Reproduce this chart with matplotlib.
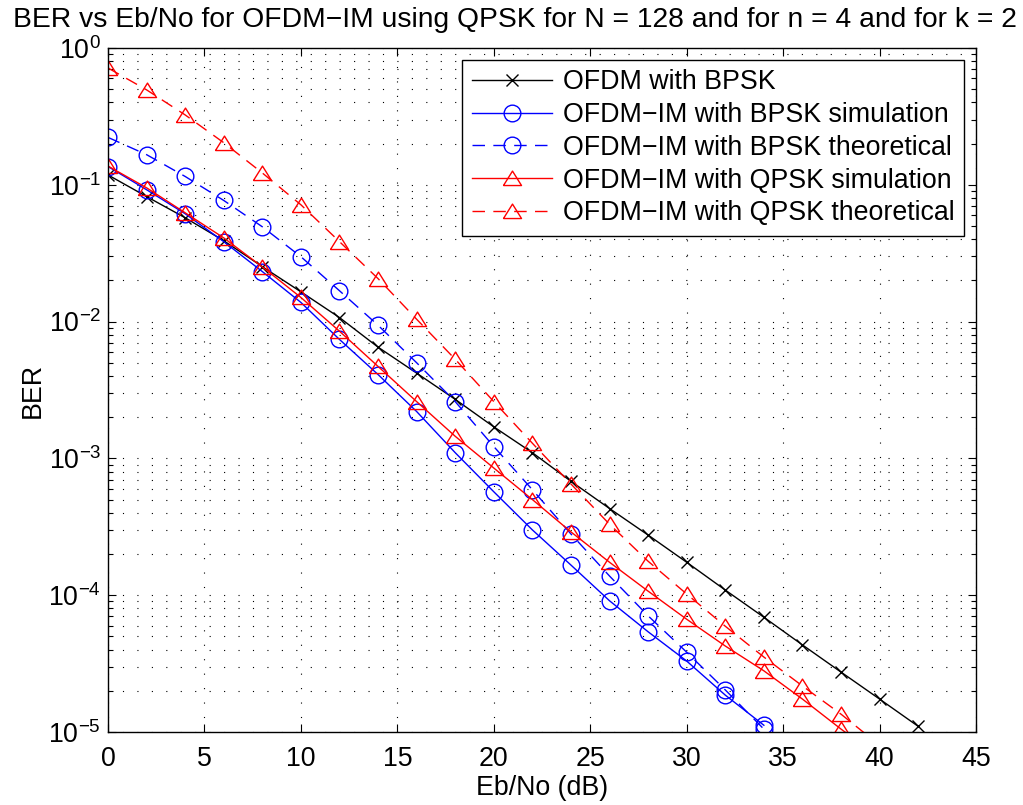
import matplotlib
matplotlib.use("Agg")
import matplotlib.pyplot as plt
from matplotlib.ticker import LogLocator, MultipleLocator, NullFormatter

plt.rcParams['font.family'] = ['Liberation Sans', 'DejaVu Sans']
plt.rcParams['mathtext.fontset'] = 'custom'
plt.rcParams['mathtext.rm'] = 'Liberation Sans'

title = "BER vs Eb/No for OFDM\u2212IM using QPSK for N = 128 and for n = 4 and for k = 2"
xlabel = "Eb/No (dB)"
ylabel = "BER"

labels = ["OFDM with BPSK",
          "OFDM\u2212IM with BPSK simulation",
          "OFDM\u2212IM with BPSK theoretical",
          "OFDM\u2212IM with QPSK simulation",
          "OFDM\u2212IM with QPSK theoretical"]

snr_ofdm = list(range(0, 43, 2))
ber_ofdm = [0.118, 0.082, 0.0574, 0.0390, 0.0252, 0.0165, 0.0107, 0.0065, 0.0042,
            0.0027, 0.0017, 0.0011, 0.00068, 0.00043, 0.000275, 0.000174, 0.000109,
            6.9e-5, 4.33e-5, 2.74e-5, 1.74e-5, 1.10e-5]

snr_bpsk = list(range(0, 35, 2))
ber_bpsk_sim = [0.136, 0.092, 0.0614, 0.0384, 0.0232, 0.0138, 0.0074, 0.0041, 0.0022,
                0.00110, 0.00057, 0.00030, 0.000166, 9.1e-5, 5.4e-5, 3.3e-5, 1.86e-5, 1.12e-5]
ber_bpsk_th = [0.222, 0.166, 0.115, 0.0768, 0.0493, 0.0298, 0.0168, 0.0094, 0.0050,
               0.0026, 0.00122, 0.00059, 0.00028, 0.000138, 7.06e-5, 3.83e-5, 2.03e-5, 1.05e-5]

snr_qpsk = list(range(0, 41, 2))
ber_qpsk_sim = [0.137, 0.095, 0.0624, 0.0409, 0.0251, 0.0150, 0.0085, 0.0047, 0.0026,
                0.00145, 0.00085, 0.00050, 0.00029, 0.000174, 0.000107, 6.67e-5, 4.25e-5,
                2.8e-5, 1.74e-5, 1.05e-5, 6.5e-6]
ber_qpsk_th = [0.714, 0.494, 0.324, 0.203, 0.122, 0.0714, 0.0384, 0.0206, 0.0104,
               0.0053, 0.0026, 0.00129, 0.00065, 0.00033, 0.000177, 0.000102, 5.93e-5,
               3.53e-5, 2.17e-5, 1.35e-5, 8e-6]

FS = 19.3

fig = plt.figure(figsize=(10.23, 8.05), dpi=100)
ax = fig.add_axes([0.1056, 0.0907, 0.8485, 0.8497])

tri = [(-1.0, -0.78), (1.0, -0.78), (0.0, 0.82), (-1.0, -0.78)]
dash = (0, (9, 6))
ms = 12
ax.plot(snr_ofdm, ber_ofdm, color='k', lw=1.0, marker='x', ms=9, mew=1.0, label=labels[0])
ax.plot(snr_bpsk, ber_bpsk_sim, color='#0000ff', lw=1.0, marker='o', ms=ms, mfc='none', mew=1.0, label=labels[1])
ax.plot(snr_bpsk, ber_bpsk_th, color='#0000ff', lw=1.0, ls=dash, marker='o', ms=ms, mfc='none', mew=1.0, label=labels[2])
ax.plot(snr_qpsk, ber_qpsk_sim, color='#ff0000', lw=1.0, marker=tri, ms=13, mfc='none', mew=1.0, label=labels[3])
ax.plot(snr_qpsk, ber_qpsk_th, color='#ff0000', lw=1.0, ls=dash, marker=tri, ms=13, mfc='none', mew=1.0, label=labels[4])

ax.set_yscale('log')
ax.set_xlim(0, 45)
ax.set_ylim(1e-5, 1)
ax.xaxis.set_major_locator(MultipleLocator(5))
ax.yaxis.set_major_locator(LogLocator(base=10, numticks=10))
ax.yaxis.set_minor_locator(LogLocator(base=10, subs=range(2, 10), numticks=100))
ax.yaxis.set_minor_formatter(NullFormatter())

grid_ls = (0, (1, 12))
ax.grid(True, which='major', axis='both', color='k', lw=0.8, ls=grid_ls)
ax.grid(True, which='minor', axis='y', color='k', lw=0.8, ls=grid_ls)
ax.set_axisbelow(True)

ax.tick_params(which='both', direction='in', top=True, right=True, labelsize=FS, width=0.8)
ax.tick_params(which='major', length=6)
ax.tick_params(which='minor', length=3.5)
ax.tick_params(axis='x', pad=10)
ax.tick_params(axis='y', pad=5)
for s in ax.spines.values():
    s.set_linewidth(1.0)

fig.text(515 / 1023, 1 - 27 / 805, title, fontsize=20.3, ha='center', va='baseline')
ax.set_xlabel(xlabel, fontsize=FS, labelpad=2)
ax.set_ylabel(ylabel, fontsize=FS, labelpad=2)

leg = ax.legend(loc='upper right', fontsize=FS, frameon=True, fancybox=False,
                edgecolor='k', framealpha=1, handlelength=3.0, handletextpad=0.4,
                labelspacing=0.25, borderaxespad=0.45, borderpad=0.35)
leg.get_frame().set_linewidth(1.0)

fig.savefig("out.png", dpi=100, facecolor='white')
